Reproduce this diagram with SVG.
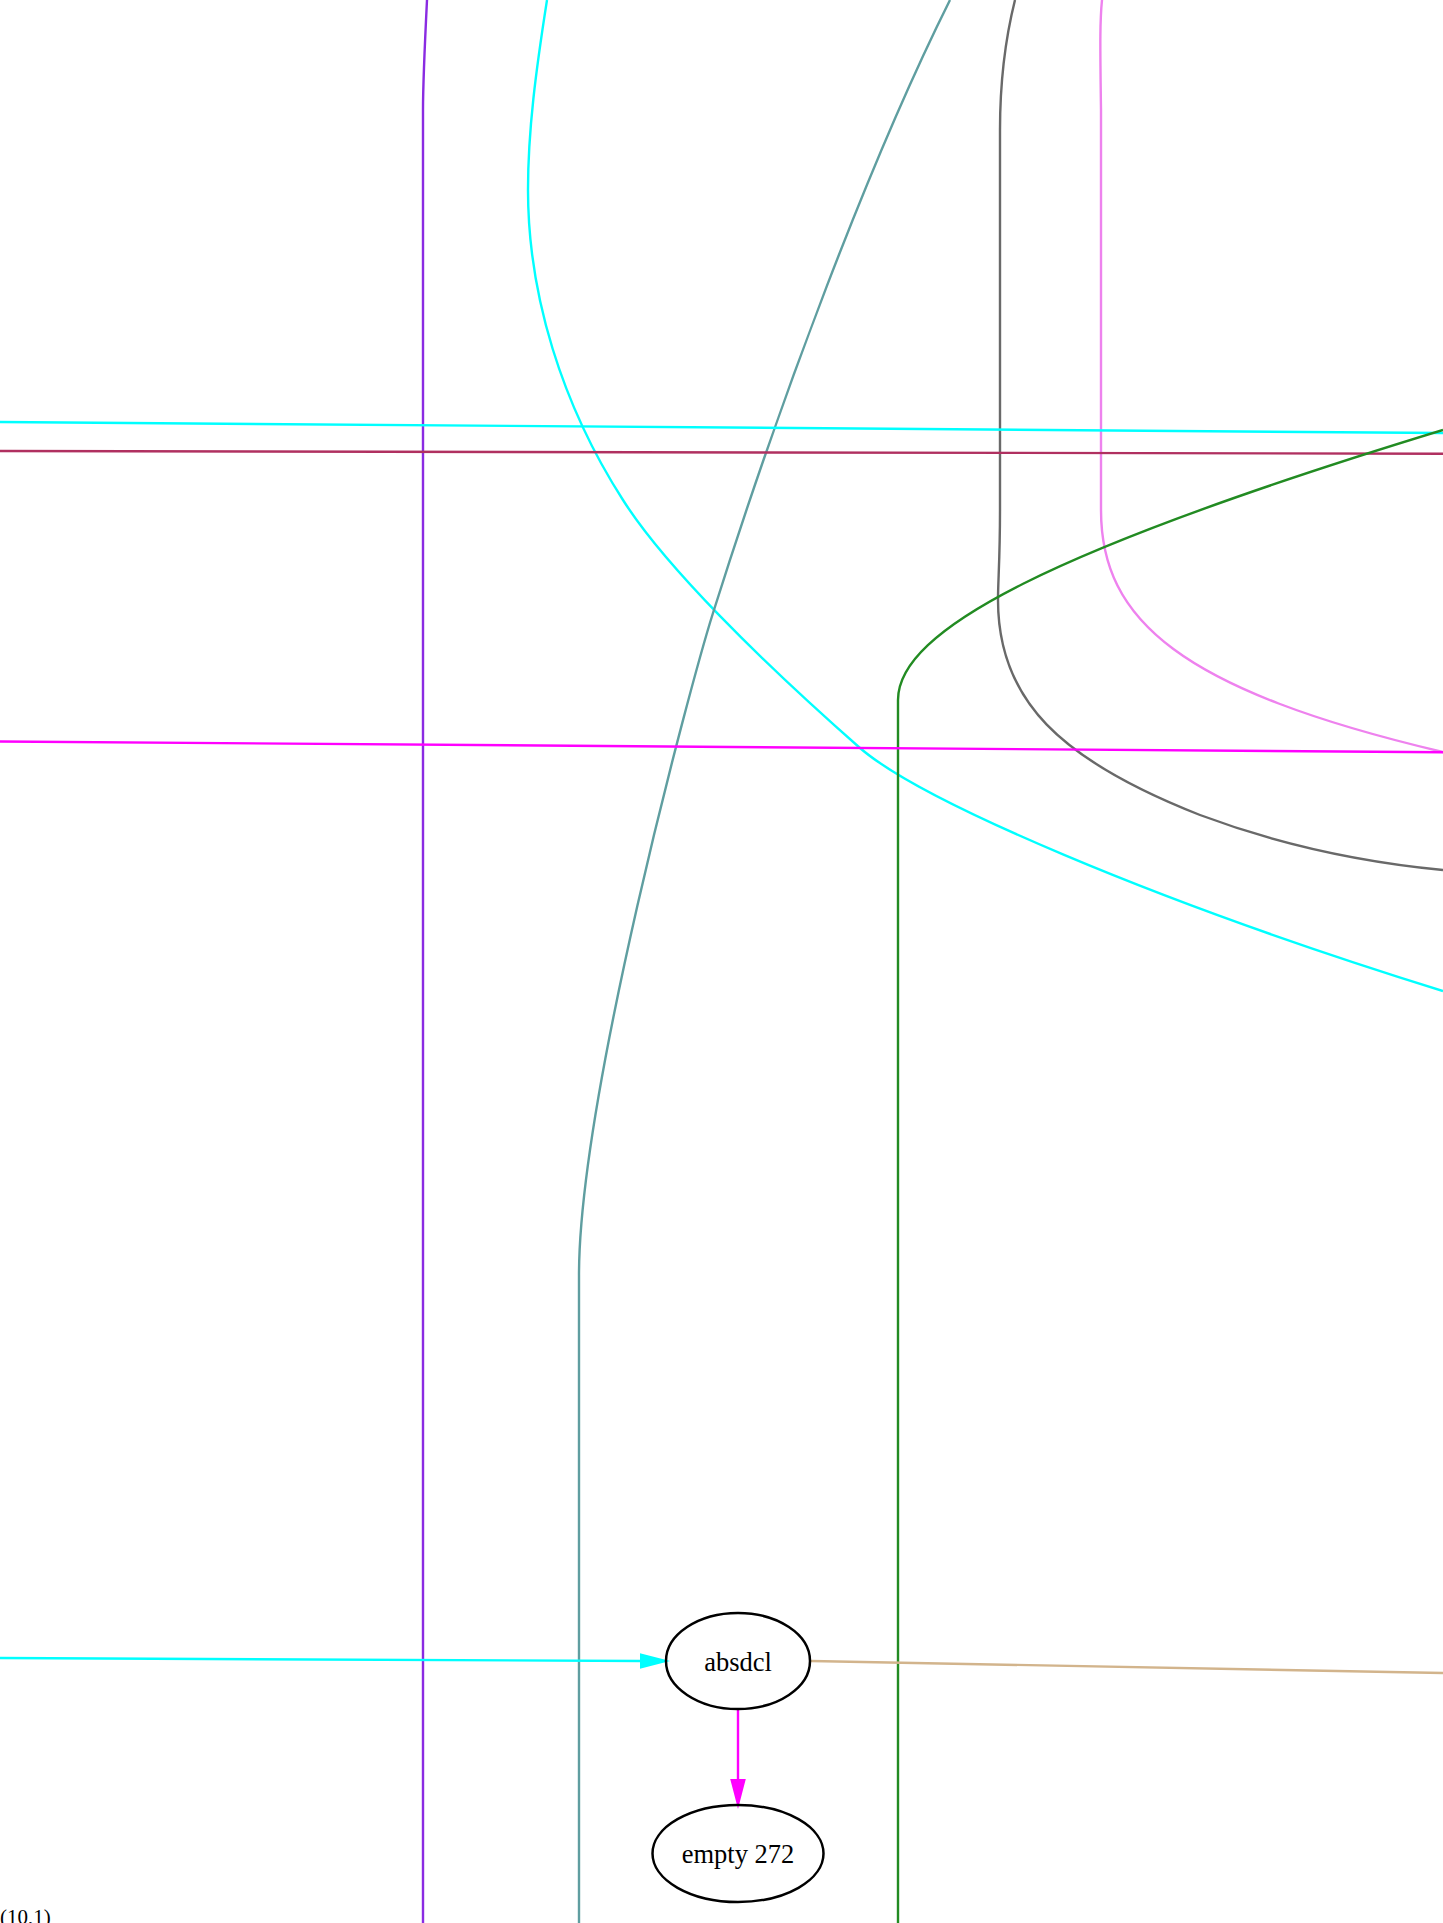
<svg xmlns="http://www.w3.org/2000/svg" width="1443" height="1923" viewBox="0 0 1443 1923">
<style>
.e{fill:none;stroke-width:2.4}
.n ellipse{fill:none;stroke:#000;stroke-width:2.5}
.n text{font-family:"Liberation Serif",serif;font-size:26.5px;text-anchor:middle;fill:#000}
</style>
<rect width="1443" height="1923" fill="#fff"/>
<g id="connectors">
<path class="e" stroke="#8a2be2" d="M427,0 C425,40 423,80 423,110 L423,1923"/>
<path class="e" stroke="#00ffff" d="M547,0 C536,70 528,130 528,190 C528,295 562,405 623,500 C664,565 760,660 860,748 C920,800 1150,900 1443,991"/>
<path class="e" stroke="#5f9ea0" d="M950,0 C870,160 780,400 713,613 C690,686 579,1100 579,1275 L579,1923"/>
<path class="e" stroke="#696969" d="M1015,0 C1005,40 1000,80 1000,130 L1000,510 C1000,560 998,580 998,600 C998,700 1060,760 1200,815 C1280,845 1360,862 1443,870"/>
<path class="e" stroke="#ee82ee" d="M1102,0 C1100,20 1100,40 1101,110 L1101,510 C1101,620 1180,690 1443,752"/>
<path class="e" stroke="#00ffff" d="M0,422 L1443,433"/>
<path class="e" stroke="#b03060" d="M0,451 L1443,453.7"/>
<path class="e" stroke="#228b22" d="M898,1923 L898,700 C898,630 1050,550 1443,430"/>
<path class="e" stroke="#ff00ff" d="M0,741.5 L1443,752.3"/>
<path class="e" stroke="#00ffff" d="M0,1658 L641,1661"/>
<polygon fill="#00ffff" stroke="#00ffff" stroke-width="2" points="666,1661 641,1654.5 641,1667.5"/>
<path class="e" stroke="#d2b48c" d="M811,1661 L1443,1673"/>
<path class="e" stroke="#ff00ff" d="M738,1709 L738,1780"/>
<polygon fill="#ff00ff" stroke="#ff00ff" stroke-width="2" points="738,1805 731.5,1780 744.5,1780"/>
</g>
<g id="absdcl" class="n">
<ellipse cx="738" cy="1661" rx="72" ry="48"/>
<text x="738" y="1671">absdcl</text>
</g>
<g id="empty272" class="n">
<ellipse cx="738" cy="1853.5" rx="85.5" ry="48.5"/>
<text x="738" y="1863">empty 272</text>
</g>
<text x="0" y="1924" font-family="Liberation Serif, serif" font-size="21">(10,1)</text>
</svg>
